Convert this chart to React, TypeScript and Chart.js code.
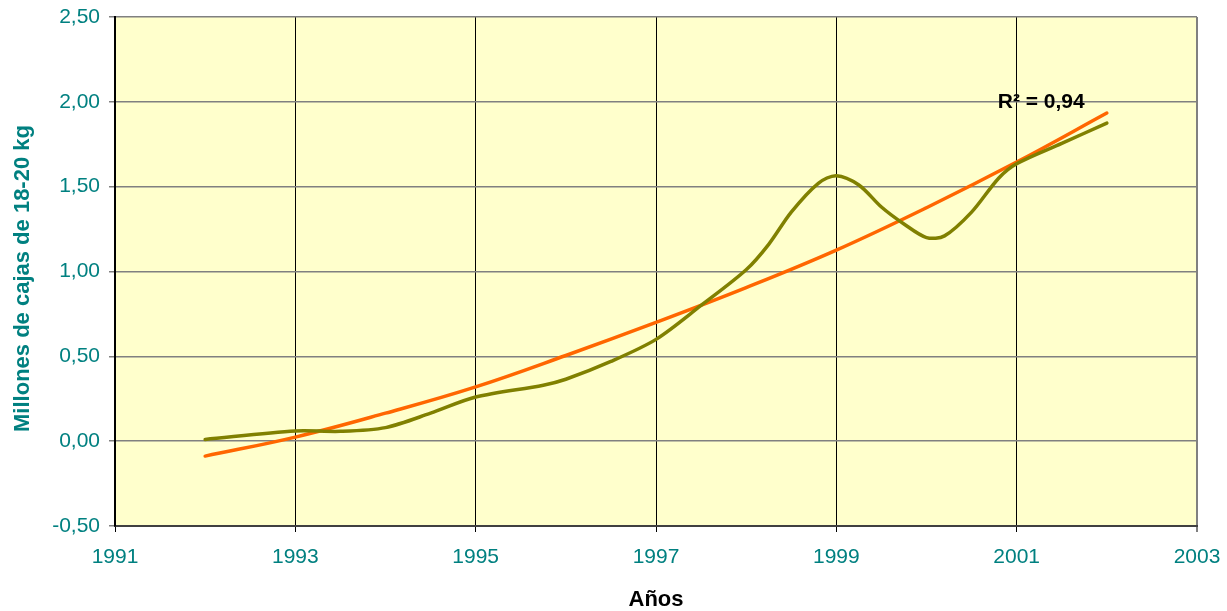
import React, { useEffect, useRef } from "react";
import { Chart, registerables } from "chart.js";

Chart.register(...registerables);

const actualYears = [1992, 1993, 1993.5, 1994, 1994.5, 1995, 1995.75, 1996, 1996.5, 1997, 1997.5, 1998, 1998.25, 1998.5, 1998.8, 1999, 1999.25, 1999.5, 1999.75, 2000, 2000.2, 2000.5, 2000.8, 2001, 2001.5, 2002];
const actualValues = [0.01, 0.06, 0.058, 0.08, 0.165, 0.26, 0.33, 0.365, 0.47, 0.6, 0.8, 1.01, 1.16, 1.35, 1.52, 1.565, 1.51, 1.38, 1.28, 1.2, 1.21, 1.35, 1.55, 1.635, 1.755, 1.875];

const trendYears = [1992, 1993, 1994, 1995, 1996, 1997, 1998, 1999, 2000, 2001, 2002];
const trendValues = [-0.088, 0.024, 0.165, 0.32, 0.505, 0.7, 0.905, 1.126, 1.376, 1.645, 1.934];

const xTicks = [1991, 1993, 1995, 1997, 1999, 2001, 2003];
const yTicks = [-0.5, 0, 0.5, 1, 1.5, 2, 2.5];

const r2Label = "R² = 0,94";
const r2Pos = { x: 2000.79, y: 2.0 };
const yTitle = "Millones de cajas de 18-20 kg";
const xTitle = "Años";

const FONT = "'Liberation Sans', Arial, sans-serif";
const TEAL = "#008080";

export default function App() {
  const ref = useRef<HTMLCanvasElement | null>(null);

  useEffect(() => {
    if (!ref.current) return;

    const bgPlugin = {
      id: "plotBg",
      beforeDraw(chart: any) {
        const { ctx, chartArea } = chart;
        ctx.save();
        ctx.fillStyle = "#FFFFCC";
        ctx.fillRect(chartArea.left, chartArea.top, chartArea.right - chartArea.left, chartArea.bottom - chartArea.top);
        ctx.restore();
      },
    };

    const textPlugin = {
      id: "texts",
      afterDraw(chart: any) {
        const { ctx, scales, chartArea } = chart;
        ctx.save();
        const px = scales.x.getPixelForValue(r2Pos.x);
        const py = scales.y.getPixelForValue(r2Pos.y);
        ctx.font = `bold 21px ${FONT}`;
        ctx.fillStyle = "#000000";
        ctx.textAlign = "left";
        ctx.textBaseline = "middle";
        ctx.fillText(r2Label, px, py);
        ctx.translate(23, (chartArea.top + chartArea.bottom) / 2 + 7);
        ctx.rotate(-Math.PI / 2);
        ctx.font = `bold 22px ${FONT}`;
        ctx.fillStyle = TEAL;
        ctx.textAlign = "center";
        ctx.textBaseline = "middle";
        ctx.fillText(yTitle, 0, 0);
        ctx.restore();
      },
    };

    const chart = new Chart(ref.current, {
      type: "line",
      data: {
        datasets: [
          {
            label: "Actual",
            data: actualYears.map((x, i) => ({ x, y: actualValues[i] })),
            borderColor: "#808000",
            borderWidth: 3.5,
            pointRadius: 0,
            tension: 0.3,
            borderJoinStyle: "round",
            borderCapStyle: "round",
          },
          {
            label: "Tendencia",
            data: trendYears.map((x, i) => ({ x, y: trendValues[i] })),
            borderColor: "#FF6600",
            borderWidth: 3.5,
            pointRadius: 0,
            tension: 0.4,
            borderJoinStyle: "round",
            borderCapStyle: "round",
          },
        ],
      },
      options: {
        animation: false,
        responsive: false,
        maintainAspectRatio: false,
        layout: { padding: { left: 0, right: 30, top: 17, bottom: 0 } },
        plugins: {
          legend: { display: false },
          tooltip: { enabled: false },
        },
        scales: {
          x: {
            type: "linear",
            min: 1991,
            max: 2003,
            afterBuildTicks: (s: any) => {
              s.ticks = xTicks.map((v) => ({ value: v }));
            },
            afterFit: (s: any) => {
              s.height = 85;
              s.paddingLeft = 0;
              s.paddingRight = 0;
            },
            ticks: {
              color: TEAL,
              font: { family: FONT, size: 21 },
              padding: 13,
              maxRotation: 0,
              autoSkip: false,
              callback: (v: any) => String(v),
            },
            grid: {
              color: (c: any) => (c.tick && c.tick.value === 2003 ? "#808080" : "#000000"),
              lineWidth: (c: any) => (c.tick && c.tick.value === 2003 ? 2 : 1),
              tickLength: 6,
            },
            border: { color: "#404040", width: 2 },
            title: {
              display: true,
              text: xTitle,
              color: "#000000",
              font: { family: FONT, size: 22, weight: "bold", lineHeight: 1 },
              padding: { top: 0, bottom: 0 },
            },
          },
          y: {
            type: "linear",
            min: -0.5,
            max: 2.5,
            afterBuildTicks: (s: any) => {
              s.ticks = yTicks.map((v) => ({ value: v }));
            },
            afterFit: (s: any) => {
              s.width = 115;
              s.paddingTop = 0;
              s.paddingBottom = 0;
            },
            ticks: {
              color: TEAL,
              font: { family: FONT, size: 21 },
              padding: 9,
              callback: (v: any) => Number(v).toFixed(2).replace(".", ","),
            },
            grid: {
              color: "#808080",
              lineWidth: 1.5,
              tickLength: 6,
            },
            border: { color: "#000000", width: 2 },
          },
        },
      },
      plugins: [bgPlugin, textPlugin],
    } as any);

    return () => chart.destroy();
  }, []);

  return (
    <div style={{ position: "fixed", left: 0, top: 0, width: 1227, height: 611, background: "#ffffff" }}>
      <canvas ref={ref} width={1227} height={611} style={{ width: 1227, height: 611, display: "block" }} />
    </div>
  );
}
